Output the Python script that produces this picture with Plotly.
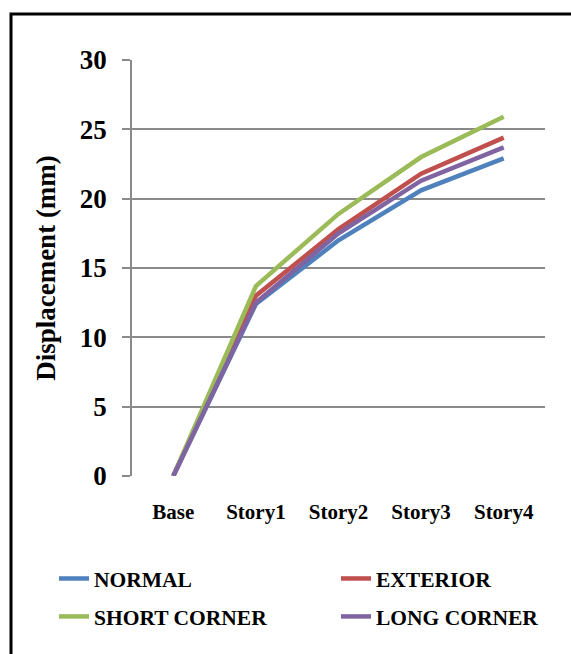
import plotly.graph_objects as go

stories = ["Base", "Story1", "Story2", "Story3", "Story4"]
normal = [0, 12.4, 17.0, 20.6, 22.9]
exterior = [0, 13.0, 17.8, 21.8, 24.4]
short_corner = [0, 13.7, 18.9, 23.0, 25.9]
long_corner = [0, 12.5, 17.5, 21.3, 23.7]
y_ticks = [0, 5, 10, 15, 20, 25, 30]

W, H = 571, 654
ML, MR, MT, MB = 132, 26, 60, 178
PW, PH = W - ML - MR, H - MT - MB

def px_x(p):
    return (p - ML) / PW

def px_y(p):
    return (H - MB - p) / PH

FONT = "Liberation Serif"
series = [
    ("NORMAL", normal, "#4F81BD", "legend"),
    ("EXTERIOR", exterior, "#C0504D", "legend2"),
    ("SHORT CORNER", short_corner, "#9BBB59", "legend"),
    ("LONG CORNER", long_corner, "#8064A2", "legend2"),
]

fig = go.Figure()
for name, vals, color, lg in series:
    fig.add_trace(go.Scatter(
        x=stories, y=vals, mode="lines", name=name,
        line=dict(color=color, width=4.5), legend=lg, legendgroup=name,
    ))

legend_common = dict(
    orientation="v", yanchor="top", xanchor="left",
    font=dict(family=FONT, size=21.5, color="black", weight="bold"),
    bgcolor="rgba(0,0,0,0)", tracegroupgap=7, itemwidth=30,
)

fig.update_layout(
    width=W, height=H,
    margin=dict(l=ML, r=MR, t=MT, b=MB, autoexpand=False),
    paper_bgcolor="white", plot_bgcolor="white",
    font=dict(family=FONT, color="black"),
    showlegend=True,
    legend=dict(x=px_x(54), y=px_y(558), **legend_common),
    legend2=dict(x=px_x(336), y=px_y(558), **legend_common),
    xaxis=dict(
        type="category", range=[-0.5, 4.5],
        showgrid=False, showline=False, ticks="",
        tickfont=dict(family=FONT, size=21, color="black", weight="bold"),
        ticklabelstandoff=21,
    ),
    yaxis=dict(
        range=[0, 30], tickvals=y_ticks,
        showgrid=True, gridcolor="#8a8a8a", gridwidth=1.6,
        showline=True, linecolor="#8a8a8a", linewidth=1.6,
        ticks="outside", ticklen=8, tickcolor="#8a8a8a", tickwidth=1.6,
        tickfont=dict(family=FONT, size=27, color="black", weight="bold"),
        ticklabelstandoff=10,
        zeroline=False,
        title=dict(text="<b>Displacement (mm)</b>",
                   font=dict(family=FONT, size=27, color="black"), standoff=16),
    ),
    shapes=[dict(
        type="rect", xref="paper", yref="paper",
        x0=px_x(11), x1=px_x(W + 20), y0=px_y(H + 20), y1=px_y(14),
        line=dict(color="black", width=3), fillcolor="rgba(0,0,0,0)", layer="below",
    )],
)

fig.write_html("out.html")
